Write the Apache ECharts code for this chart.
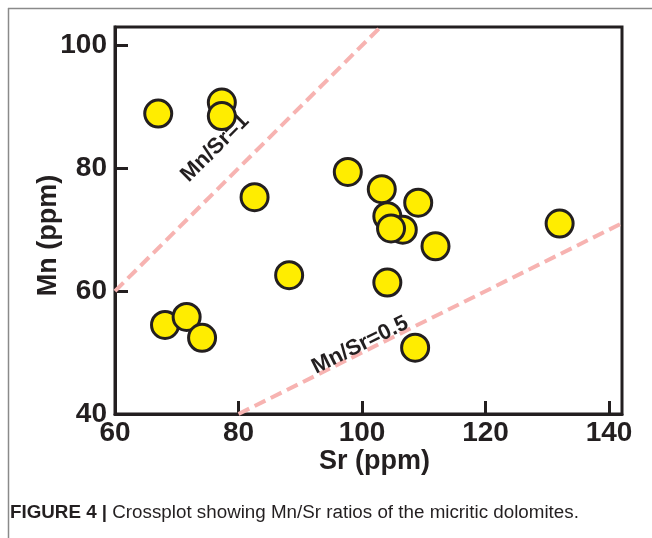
<!DOCTYPE html>
<html>
<head>
<meta charset="utf-8">
<script src="https://cdn.jsdelivr.net/npm/echarts@6/dist/echarts.min.js"></script>
<style>
  html, body { margin: 0; padding: 0; background: #fff; }
  #chart { width: 652px; height: 538px; }
</style>
</head>
<body>
<div id="chart"></div>
<script>
// data
var srValues = [67.0, 77.3, 77.3, 82.6, 97.7, 103.2, 109.1, 104.1, 106.6, 104.7, 111.9, 132.0, 88.2, 104.1, 68.1, 71.6, 74.1, 108.6];
var mnValues = [88.9, 90.7, 88.5, 75.3, 79.4, 76.6, 74.4, 72.2, 70.0, 70.2, 67.3, 71.0, 62.6, 61.4, 54.5, 55.8, 52.4, 50.8];
var ratios = [1, 0.5];
var ratioNames = ['Mn/Sr=1', 'Mn/Sr=0.5'];

// where the ratio labels sit (data coords, just above each line)
var ratioLabelAt = [[76.2, 83.3], [99.7, 51.2]];

var xMin = 60, xMax = 142.1, yMin = 40, yMax = 103;
var ink = '#231f20';
var boldFont = '"Liberation Sans", Arial, sans-serif';

var chart = echarts.init(document.getElementById('chart'));

var points = srValues.map(function (s, i) { return [s, mnValues[i]]; });

// ratio lines, clipped to the plot box
var ratioSeries = ratios.map(function (r) {
    var x0 = Math.max(xMin, yMin / r);
    var x1 = Math.min(xMax, yMax / r);
    return {
        type: 'line',
        data: [[x0, r * x0], [x1, r * x1]],
        symbol: 'none',
        silent: true,
        z: 1,
        lineStyle: { color: '#f7b3b1', width: 4, type: [12, 6] }
    };
});

var labelData = ratios.map(function (r, i) {
    return { name: ratioNames[i], value: ratioLabelAt[i] };
});

var option = {
    animation: false,
    backgroundColor: '#fff',
    grid: {
        left: 115, right: 30, top: 27, bottom: 124,
        show: true, borderColor: ink, borderWidth: 3
    },
    xAxis: {
        type: 'value', min: xMin, max: xMax, interval: 20,
        name: 'Sr (ppm)', nameLocation: 'middle', nameGap: 34, nameMoveOverlap: false,
        nameTextStyle: { fontFamily: boldFont, fontWeight: 'bold', fontSize: 27, color: ink, padding: [0, 0, 0, 12] },
        axisLine: { show: true, lineStyle: { color: ink, width: 3 } },
        axisTick: { show: true, inside: true, length: 13, lineStyle: { color: ink, width: 3 } },
        axisLabel: { fontFamily: boldFont, fontWeight: 'bold', fontSize: 28, color: ink, margin: 5, showMaxLabel: false },
        splitLine: { show: false }
    },
    yAxis: {
        type: 'value', min: yMin, max: yMax, interval: 20,
        name: 'Mn (ppm)', nameLocation: 'middle', nameGap: 53, nameRotate: 90, nameMoveOverlap: false,
        nameTextStyle: { fontFamily: boldFont, fontWeight: 'bold', fontSize: 27, color: ink, padding: [0, 30, 0, 0] },
        axisLine: { show: true, lineStyle: { color: ink, width: 3 } },
        axisTick: { show: true, inside: true, length: 13, lineStyle: { color: ink, width: 3 } },
        axisLabel: { fontFamily: boldFont, fontWeight: 'bold', fontSize: 28, color: ink, margin: 8, showMaxLabel: false },
        splitLine: { show: false }
    },
    series: ratioSeries.concat([
        {
            type: 'scatter',
            data: labelData,
            symbolSize: 0,
            silent: true,
            z: 2,
            itemStyle: { opacity: 1 },
            label: {
                show: true,
                position: 'inside',
                formatter: '{b}',
                fontFamily: boldFont, fontWeight: 'bold', fontSize: 22, color: ink,
                textBorderWidth: 0
            }
        },
        {
            type: 'scatter',
            data: points,
            symbolSize: 27,
            z: 3,
            itemStyle: { color: '#ffed00', borderColor: ink, borderWidth: 3, opacity: 1 }
        }
    ]),
    graphic: [
        { type: 'line', shape: { x1: 8, y1: 8.5, x2: 652, y2: 8.5 }, style: { stroke: '#8a8a8a', lineWidth: 1.5 } },
        { type: 'line', shape: { x1: 8.5, y1: 8, x2: 8.5, y2: 538 }, style: { stroke: '#8a8a8a', lineWidth: 1.5 } },
        {
            type: 'text', left: 10, top: 503,
            style: {
                text: '{b|FIGURE 4 |} Crossplot showing Mn/Sr ratios of the micritic dolomites.',
                fontFamily: boldFont, fontSize: 18.8, fill: ink,
                rich: { b: { fontWeight: 'bold', fontSize: 18.8, fontFamily: boldFont, fill: ink } }
            }
        }
    ]
};

chart.setOption(option);

// rotate ratio labels to follow their lines on screen
var angles = ratios.map(function (r) {
    var p0 = chart.convertToPixel('grid', [80, 80 * r]);
    var p1 = chart.convertToPixel('grid', [120, 120 * r]);
    return -Math.atan2(p1[1] - p0[1], p1[0] - p0[0]) * 180 / Math.PI;
});
chart.setOption({
    series: [{}, {}, {
        data: labelData.map(function (d, i) {
            return { name: d.name, value: d.value, label: { rotate: angles[i] } };
        })
    }]
});
</script>
</body>
</html>
